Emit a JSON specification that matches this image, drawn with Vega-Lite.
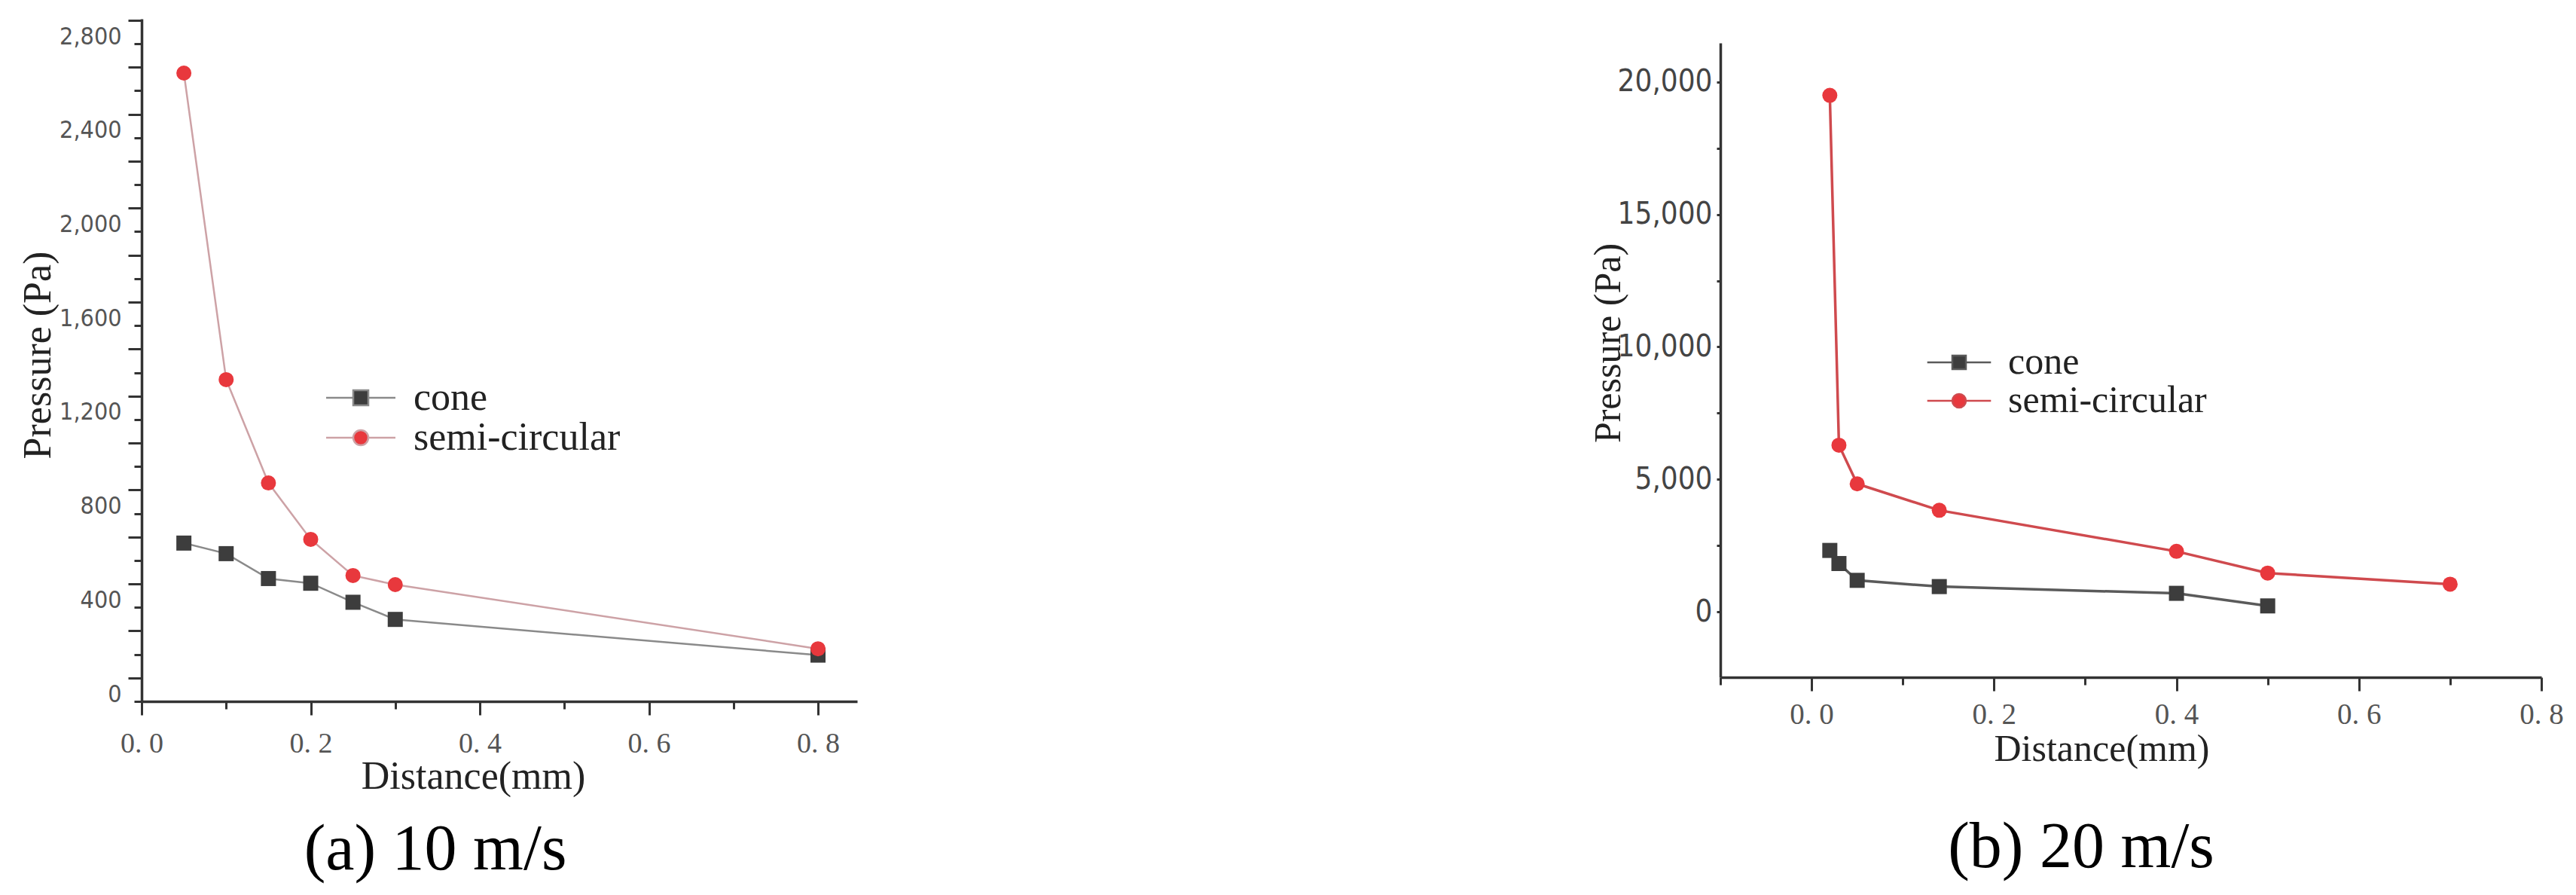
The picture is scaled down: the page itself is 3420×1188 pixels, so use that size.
{
  "$schema": "https://vega.github.io/schema/vega-lite/v6.json",
  "background": "white",
  "padding": {"left": 24, "top": 0, "right": 10, "bottom": 10},
  "config": {"view": {"stroke": null}},
  "datasets": {
    "a": [
      {"series": "cone", "distance": 0.05, "pressure": 674},
      {"series": "cone", "distance": 0.1, "pressure": 629},
      {"series": "cone", "distance": 0.15, "pressure": 523},
      {"series": "cone", "distance": 0.2, "pressure": 503},
      {"series": "cone", "distance": 0.25, "pressure": 422},
      {"series": "cone", "distance": 0.3, "pressure": 349},
      {"series": "cone", "distance": 0.8, "pressure": 197},
      {"series": "semi-circular", "distance": 0.05, "pressure": 2675},
      {"series": "semi-circular", "distance": 0.1, "pressure": 1370},
      {"series": "semi-circular", "distance": 0.15, "pressure": 930},
      {"series": "semi-circular", "distance": 0.2, "pressure": 690},
      {"series": "semi-circular", "distance": 0.25, "pressure": 536},
      {"series": "semi-circular", "distance": 0.3, "pressure": 497},
      {"series": "semi-circular", "distance": 0.8, "pressure": 224}
    ],
    "b": [
      {"series": "cone", "distance": 0.02, "pressure": 2315},
      {"series": "cone", "distance": 0.03, "pressure": 1820},
      {"series": "cone", "distance": 0.05, "pressure": 1185},
      {"series": "cone", "distance": 0.14, "pressure": 950},
      {"series": "cone", "distance": 0.4, "pressure": 695},
      {"series": "cone", "distance": 0.5, "pressure": 220},
      {"series": "semi-circular", "distance": 0.02, "pressure": 19500},
      {"series": "semi-circular", "distance": 0.03, "pressure": 6290},
      {"series": "semi-circular", "distance": 0.05, "pressure": 4830},
      {"series": "semi-circular", "distance": 0.14, "pressure": 3830},
      {"series": "semi-circular", "distance": 0.4, "pressure": 2280},
      {"series": "semi-circular", "distance": 0.5, "pressure": 1460},
      {"series": "semi-circular", "distance": 0.7, "pressure": 1040}
    ]
  },
  "hconcat": [
    {
      "width": 950,
      "height": 906,
      "data": {"name": "a"},
      "title": {"text": "(a) 10 m/s", "orient": "bottom", "anchor": "middle", "frame": "group", "dx": -85, "offset": 30, "font": "Liberation Serif", "fontSize": 86, "fontWeight": "normal", "color": "#000000"},
      "encoding": {
        "x": {"field": "distance", "type": "quantitative", "scale": {"domain": [0, 0.8463], "nice": false, "zero": false},
          "axis": {"values": [0, 0.1, 0.2, 0.3, 0.4, 0.5, 0.6, 0.7, 0.8], "grid": false,
            "labelExpr": "round(datum.value*10) % 2 === 0 ? replace(format(datum.value, '.1f'), '.', '. ') : ''",
            "tickSize": {"condition": {"test": "round(datum.value*10) % 2 === 0", "value": 18}, "value": 10},
            "tickWidth": 3, "tickColor": "#333333", "domainColor": "#333333", "domainWidth": 3.5,
            "labelFont": "Liberation Serif", "labelFontSize": 38, "labelColor": "#555555", "labelPadding": 19, "labelOverlap": false, "labelBound": false, "labelFlush": false,
            "title": "Distance(mm)", "titleFont": "Liberation Serif", "titleFontSize": 52, "titleFontWeight": "normal", "titleColor": "#222222",
            "titleX": 440, "titleY": 115, "titleAlign": "center", "titleBaseline": "alphabetic"}},
        "y": {"field": "pressure", "type": "quantitative", "scale": {"domain": [0, 2906], "nice": false, "zero": false},
          "axis": {"values": [0, 100, 200, 300, 400, 500, 600, 700, 800, 900, 1000, 1100, 1200, 1300, 1400, 1500, 1600, 1700, 1800, 1900, 2000, 2100, 2200, 2300, 2400, 2500, 2600, 2700, 2800, 2900], "grid": false,
            "labelExpr": "datum.value % 400 === 0 ? format(datum.value, ',') : ''",
            "tickSize": {"condition": {"test": "round(datum.value/100) % 2 === 1", "value": 18}, "value": 10},
            "tickWidth": 3, "tickColor": "#333333", "domainColor": "#333333", "domainWidth": 3.5,
            "labelFont": "Liberation Sans Narrow, DejaVu Sans Condensed, sans-serif", "labelFontSize": 32, "labelColor": "#555555", "labelPadding": 17, "labelOffset": -10, "labelOverlap": false, "labelBound": false, "labelFlush": false,
            "title": "Pressure (Pa)", "titleFont": "Liberation Serif", "titleFontSize": 52, "titleFontWeight": "normal", "titleColor": "#222222",
            "titleX": -138, "titleY": 446, "titleAngle": -90, "titleAlign": "center", "titleBaseline": "middle"}}
      },
      "layer": [
        {
          "mark": {"type": "line", "strokeWidth": 2.5},
          "encoding": {
            "stroke": {"field": "series", "type": "nominal",
              "scale": {"domain": ["cone", "semi-circular"], "range": ["#8a8a8a", "#cda2a6"]},
              "legend": {"orient": "none", "legendX": 265, "legendY": 477, "title": null, "padding": 0,
                "labelFont": "Liberation Serif", "labelFontSize": 52, "labelColor": "#222222", "labelOffset": 44, "labelLimit": 800,
                "symbolSize": 400, "rowPadding": 1, "symbolStrokeWidth": 2.5,
                "encode": {"symbols": {"update": {
                  "shape": {"signal": "datum.value === 'cone' ? 'M-4.6,0H-1M1,0H4.6M-1,-1H1V1H-1Z' : 'M-4.6,0H-1M1,0H4.6M-1,0A1,1 0 1,1 1,0A1,1 0 1,1 -1,0Z'"},
                  "fill": {"signal": "datum.value === 'cone' ? '#3d3d3d' : '#e8383d'"},
                  "fillOpacity": {"value": 1},
                  "stroke": {"signal": "datum.value === 'cone' ? '#8a8a8a' : '#cda2a6'"},
                  "strokeOpacity": {"value": 1},
                  "strokeWidth": {"value": 2.5}}}}}}
          }
        },
        {
          "transform": [{"filter": "datum.series === 'cone'"}],
          "mark": {"type": "point", "filled": true, "opacity": 1, "size": 400, "shape": "square", "color": "#3d3d3d"}
        },
        {
          "transform": [{"filter": "datum.series === 'semi-circular'"}],
          "mark": {"type": "point", "filled": true, "opacity": 1, "size": 400, "shape": "circle", "color": "#e8383d"}
        }
      ]
    },
    {
      "width": 1090,
      "height": 842,
      "data": {"name": "b"},
      "title": {"text": "(b) 20 m/s", "orient": "bottom", "anchor": "middle", "frame": "group", "dx": -66, "offset": 64, "font": "Liberation Serif", "fontSize": 86, "fontWeight": "normal", "color": "#000000"},
      "encoding": {
        "x": {"field": "distance", "type": "quantitative", "scale": {"domain": [-0.1, 0.8], "nice": false, "zero": false},
          "axis": {"values": [-0.1, 0, 0.1, 0.2, 0.3, 0.4, 0.5, 0.6, 0.7, 0.8], "grid": false,
            "labelExpr": "round(datum.value*10) % 2 === 0 ? replace(format(datum.value, '.1f'), '.', '. ') : ''",
            "tickSize": {"condition": {"test": "round(datum.value*10) % 2 === 0", "value": 18}, "value": 10},
            "tickWidth": 3, "tickColor": "#333333", "domainColor": "#333333", "domainWidth": 3.5,
            "labelFont": "Liberation Serif", "labelFontSize": 39, "labelColor": "#555555", "labelPadding": 12, "labelOverlap": false, "labelBound": false, "labelFlush": false,
            "title": "Distance(mm)", "titleFont": "Liberation Serif", "titleFontSize": 50, "titleFontWeight": "normal", "titleColor": "#222222",
            "titleX": 506, "titleY": 110, "titleAlign": "center", "titleBaseline": "alphabetic"}},
        "y": {"field": "pressure", "type": "quantitative", "scale": {"domain": [-2475, 21479], "nice": false, "zero": false},
          "axis": {"values": [-2500, 0, 2500, 5000, 7500, 10000, 12500, 15000, 17500, 20000], "grid": false,
            "labelExpr": "datum.value % 5000 === 0 ? format(datum.value, ',') : ''",
            "tickSize": 5, "tickWidth": 3, "tickColor": "#333333", "domainColor": "#333333", "domainWidth": 3.5,
            "labelFont": "Liberation Sans Narrow, DejaVu Sans Condensed, sans-serif", "labelFontSize": 40, "labelColor": "#444444", "labelPadding": 6, "labelOverlap": false, "labelBound": false, "labelFlush": false,
            "title": "Pressure (Pa)", "titleFont": "Liberation Serif", "titleFontSize": 50, "titleFontWeight": "normal", "titleColor": "#222222",
            "titleX": -149, "titleY": 398, "titleAngle": -90, "titleAlign": "center", "titleBaseline": "middle"}}
      },
      "layer": [
        {
          "mark": {"type": "line", "strokeWidth": 3.5},
          "encoding": {
            "stroke": {"field": "series", "type": "nominal",
              "scale": {"domain": ["cone", "semi-circular"], "range": ["#5a5a5a", "#cf4a4e"]},
              "legend": {"orient": "none", "legendX": 292, "legendY": 399, "title": null, "padding": 0,
                "labelFont": "Liberation Serif", "labelFontSize": 50, "labelColor": "#222222", "labelOffset": 40, "labelLimit": 800,
                "symbolSize": 324, "rowPadding": 1, "symbolStrokeWidth": 2.5,
                "encode": {"symbols": {"update": {
                  "shape": {"signal": "datum.value === 'cone' ? 'M-4.7,0H-1M1,0H4.7M-1,-1H1V1H-1Z' : 'M-4.7,0H-1M1,0H4.7M-1,0A1,1 0 1,1 1,0A1,1 0 1,1 -1,0Z'"},
                  "fill": {"signal": "datum.value === 'cone' ? '#3d3d3d' : '#e8383d'"},
                  "fillOpacity": {"value": 1},
                  "stroke": {"signal": "datum.value === 'cone' ? '#8a8a8a' : '#d49a9e'"},
                  "strokeOpacity": {"value": 1},
                  "strokeWidth": {"value": 2.5}}}}}}
          }
        },
        {
          "transform": [{"filter": "datum.series === 'cone'"}],
          "mark": {"type": "point", "filled": true, "opacity": 1, "size": 400, "shape": "square", "color": "#3d3d3d"}
        },
        {
          "transform": [{"filter": "datum.series === 'semi-circular'"}],
          "mark": {"type": "point", "filled": true, "opacity": 1, "size": 400, "shape": "circle", "color": "#e8383d"}
        }
      ]
    }
  ],
  "resolve": {"scale": {"stroke": "independent"}, "legend": {"stroke": "independent"}},
  "spacing": 1146,
  "bounds": "flush",
  "center": true
}
